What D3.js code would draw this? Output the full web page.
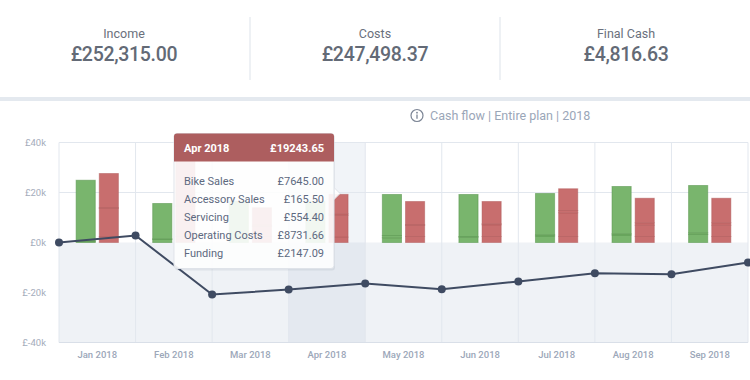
<!DOCTYPE html>
<html>
<head>
<meta charset="utf-8">
<script src="https://cdn.jsdelivr.net/npm/d3@7"></script>
<style>
  html, body { margin: 0; padding: 0; background: #ffffff; }
  svg { display: block; font-family: Roboto, "Open Sans", sans-serif; }
</style>
</head>
<body>
<svg id="chart" width="750" height="380"></svg>
<script>
// ---- data ----
const months = ["Jan 2018", "Feb 2018", "Mar 2018", "Apr 2018", "May 2018", "Jun 2018", "Jul 2018", "Aug 2018", "Sep 2018"];
// income stack segments (bottom -> top)
const incomeServicing = [300, 1200, 1200, 1200, 1900, 2100, 2600, 3000, 3200];
const incomeAccessory = [300, 300, 300, 300, 900, 300, 500, 500, 700];
const incomeBike      = [24300, 14100, 15000, 15000, 16400, 16800, 16500, 18900, 18900];
// cost stack segments (bottom -> top)
const costsFunding    = [2400, 2400, 2400, 2150, 2400, 2400, 2400, 2400, 2400];
const costsOperating  = [11200, 12000, 4000, 8730, 4400, 4700, 9500, 4500, 4500];
const costsOther      = [400, 500, 500, 600, 400, 400, 900, 1000, 1000];
const costsRest       = [13600, 19600, 7000, 7760, 9200, 8900, 8700, 9800, 9800];
// cash balance at each month boundary
const cashBalance = [0, 2800, -20800, -18800, -16400, -18700, -15600, -12300, -12700, -8000];
const yTicks = [40000, 20000, 0, -20000, -40000];

const kpiLabels = ["Income", "Costs", "Final Cash"];
const kpiValues = ["£252,315.00", "£247,498.37", "£4,816.63"];

const tipTitle = "Apr 2018";
const tipTotal = "£19243.65";
const tipNames = ["Bike Sales", "Accessory Sales", "Servicing", "Operating Costs", "Funding"];
const tipValues = ["£7645.00", "£165.50", "£554.40", "£8731.66", "£2147.09"];
const hoverMonth = "Apr 2018";

// ---- layout ----
const svg = d3.select("#chart");
const pLeft = 59, pRight = 748, pTop = 142.5, pBottom = 342.5;

// KPI header
const kpiX = [124, 375, 626];
kpiLabels.forEach((l, i) => {
  svg.append("text").attr("x", kpiX[i]).attr("y", 38).attr("text-anchor", "middle")
    .attr("font-size", 12.5).attr("fill", "#6a707c").text(l);
  svg.append("text").attr("x", kpiX[i]).attr("y", 61).attr("text-anchor", "middle")
    .attr("font-size", 19.5).attr("font-weight", 500).attr("fill", "#636a76")
    .attr("letter-spacing", -0.3).text(kpiValues[i]);
});
[250, 500].forEach(xx => svg.append("line").attr("x1", xx).attr("x2", xx).attr("y1", 17).attr("y2", 80)
  .attr("stroke", "#dde3ea").attr("stroke-width", 1));
svg.append("rect").attr("x", 0).attr("y", 97).attr("width", 750).attr("height", 4).attr("fill", "#e4e9ef");

// subtitle
const sub = svg.append("g").attr("transform", "translate(417,115.5)");
sub.append("circle").attr("r", 6).attr("fill", "none").attr("stroke", "#7c8595").attr("stroke-width", 1.2);
sub.append("circle").attr("cx", 0).attr("cy", -2.8).attr("r", 0.9).attr("fill", "#7c8595");
sub.append("line").attr("x1", 0).attr("x2", 0).attr("y1", -1).attr("y2", 3.3).attr("stroke", "#7c8595").attr("stroke-width", 1.3);
sub.append("text").attr("x", 13).attr("y", 4.3).attr("font-size", 12.5).attr("fill", "#9aa6b8")
  .text("Cash flow  |  Entire plan  |  2018");

// scales
const x = d3.scaleBand().domain(months).range([pLeft, pRight]).padding(0);
const xi = d3.scaleLinear().domain([0, months.length]).range([pLeft, pRight]);
const y = d3.scaleLinear().domain([-40000, 40000]).range([pBottom, pTop]);

// negative region
svg.append("rect").attr("x", pLeft).attr("y", y(0)).attr("width", pRight - pLeft).attr("height", y(-40000) - y(0))
  .attr("fill", "#eff2f6");
// hover band
svg.append("rect").attr("x", x(hoverMonth)).attr("y", pTop).attr("width", x.bandwidth()).attr("height", pBottom - pTop)
  .attr("fill", "rgba(180,192,214,0.18)");

// grid
svg.append("g").selectAll("line").data(yTicks.filter(d => d > 0)).join("line")
  .attr("x1", pLeft).attr("x2", pRight).attr("y1", d => y(d)).attr("y2", d => y(d))
  .attr("stroke", "#e2e7ee").attr("stroke-width", 1);
svg.append("g").selectAll("line").data(d3.range(months.length + 1)).join("line")
  .attr("x1", d => xi(d)).attr("x2", d => xi(d)).attr("y1", pTop).attr("y2", pBottom)
  .attr("stroke", "#e2e7ee").attr("stroke-width", 1);
svg.append("line").attr("x1", pLeft).attr("x2", pRight).attr("y1", pBottom).attr("y2", pBottom)
  .attr("stroke", "#d9dfe8").attr("stroke-width", 1.2);

// y axis
const yAxis = d3.axisLeft(y).tickValues(yTicks).tickSize(0).tickPadding(0)
  .tickFormat(d => "£" + (d / 1000) + "k");
const yg = svg.append("g").attr("transform", `translate(46,0)`).call(yAxis);
yg.select(".domain").remove();
yg.selectAll("text").attr("font-size", 9.5).attr("fill", "#a4acbb").attr("font-family", "Roboto, sans-serif");

// x axis
const xAxis = d3.axisBottom(x).tickSize(0).tickPadding(0);
const xg = svg.append("g").attr("transform", `translate(0,351)`).call(xAxis);
xg.select(".domain").remove();
xg.selectAll("text").attr("font-size", 9.5).attr("font-weight", 500).attr("fill", "#9ca7b9").attr("font-family", "Roboto, sans-serif");

// bars
const bw = x.bandwidth() * 0.25, gap = 2;
function drawStack(segs, xOff, fill, stroke) {
  months.forEach((m, i) => {
    let acc = 0;
    segs.forEach(arr => {
      const v0 = acc, v1 = acc + arr[i];
      acc = v1;
      svg.append("rect")
        .attr("x", x(m) + x.bandwidth() / 2 + xOff)
        .attr("y", y(v1)).attr("width", bw).attr("height", y(v0) - y(v1))
        .attr("fill", fill).attr("stroke", stroke).attr("stroke-width", 1);
    });
  });
}
drawStack([incomeServicing, incomeAccessory, incomeBike], -gap - bw, "#79b56d", "rgba(88,150,76,0.55)");
drawStack([costsFunding, costsOperating, costsOther, costsRest], gap, "#c86e6e", "rgba(170,80,80,0.45)");

// cash line
const line = d3.line().x((d, i) => xi(i)).y(d => y(d));
svg.append("path").datum(cashBalance).attr("d", line).attr("fill", "none")
  .attr("stroke", "#3f4b62").attr("stroke-width", 2);
svg.append("g").selectAll("circle").data(cashBalance).join("circle")
  .attr("cx", (d, i) => xi(i)).attr("cy", d => y(d)).attr("r", 4).attr("fill", "#3f4b62");

// tooltip
const tip = svg.append("g").attr("transform", "translate(174,133.5)");
const tw = 160, th = 135;
tip.append("rect").attr("x", 1).attr("y", 2).attr("width", tw).attr("height", th).attr("rx", 3)
  .attr("fill", "rgba(90,100,120,0.10)");
tip.append("path").attr("d", `M${tw},54 L${tw + 6},60 L${tw},66 Z`).attr("fill", "rgba(255,255,255,0.92)")
  .attr("stroke", "#dfe3e9");
tip.append("rect").attr("width", tw).attr("height", th).attr("rx", 3)
  .attr("fill", "rgba(255,255,255,0.9)").attr("stroke", "#dfe3e9");
tip.append("path").attr("d", `M0,3 Q0,0 3,0 L${tw - 3},0 Q${tw},0 ${tw},3 L${tw},28 L0,28 Z`)
  .attr("fill", "#ad5e5f");
tip.append("text").attr("x", 10).attr("y", 18).attr("font-size", 11).attr("font-weight", 700)
  .attr("fill", "#ffffff").text(tipTitle);
tip.append("text").attr("x", 150).attr("y", 18).attr("text-anchor", "end").attr("font-size", 11)
  .attr("font-weight", 700).attr("fill", "#ffffff").text(tipTotal);
tipNames.forEach((n, i) => {
  tip.append("text").attr("x", 10).attr("y", 51 + i * 18).attr("font-size", 11).attr("fill", "#5d6980").text(n);
  tip.append("text").attr("x", 150).attr("y", 51 + i * 18).attr("text-anchor", "end").attr("font-size", 11)
    .attr("fill", "#5d6980").text(tipValues[i]);
});
</script>
</body>
</html>
